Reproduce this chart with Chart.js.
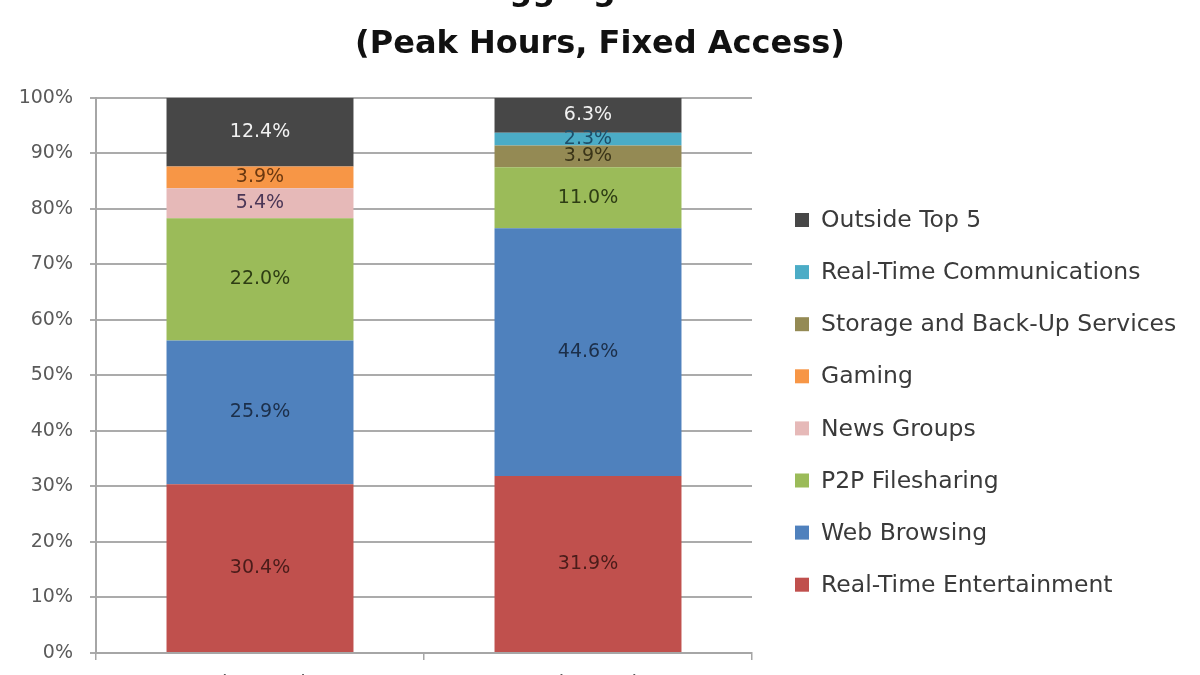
<!DOCTYPE html>
<html>
<head>
<meta charset="utf-8">
<script src="https://cdn.jsdelivr.net/npm/chart.js@4.4.0/dist/chart.umd.min.js"></script>
<style>
  html, body { margin: 0; padding: 0; background: #fff; overflow: hidden; width: 1200px; height: 675px; }
  #wrap { position: absolute; left: 0; top: -44px; width: 1200px; height: 764px; }
</style>
</head>
<body>
<div id="wrap"><canvas id="myChart" width="1200" height="764"></canvas></div>
<script>
// data (percent of peak traffic)
var categories = ["Latin America", "North America"]
var realTimeEntertainment = [30.4, 31.9]
var webBrowsing = [25.9, 44.6]
var p2pFilesharing = [22.0, 11.0]
var newsGroups = [5.4, 0]
var gaming = [3.9, 0]
var storageBackup = [0, 3.9]
var realTimeComms = [0, 2.3]
var outsideTop5 = [12.4, 6.3]
var yTicks = [0, 10, 20, 30, 40, 50, 60, 70, 80, 90, 100]

// first line is cut off at the top of the picture
var titleLines = ["Share of Aggregate Bandwidth", "(Peak Hours, Fixed Access)"]

function makeSet(label, values, color, textColor) {
  return {
    label: label,
    data: values,
    backgroundColor: color,
    textColor: textColor,
    borderWidth: 0,
    barPercentage: 0.57,
    categoryPercentage: 1.0
  }
}

// percent labels in the middle of each segment
var segmentLabels = {
  id: 'segmentLabels',
  afterDatasetsDraw: function(chart) {
    var ctx = chart.ctx
    ctx.save()
    ctx.font = '19px "DejaVu Sans"'
    ctx.textAlign = 'center'
    ctx.textBaseline = 'middle'
    chart.data.datasets.forEach(function(ds, i) {
      var meta = chart.getDatasetMeta(i)
      meta.data.forEach(function(bar, j) {
        var v = ds.data[j]
        if (!v) return
        ctx.fillStyle = ds.textColor
        ctx.fillText(v.toFixed(1) + '%', bar.x, (bar.y + bar.base) / 2)
      })
    })
    ctx.restore()
  }
}

// legend on the right, top item = top of the stack
var sideLegend = {
  id: 'sideLegend',
  afterDraw: function(chart, args, opts) {
    var ctx = chart.ctx
    var sets = chart.data.datasets.slice().reverse()
    ctx.save()
    ctx.font = opts.fontSize + 'px "DejaVu Sans"'
    ctx.textBaseline = 'middle'
    ctx.textAlign = 'left'
    sets.forEach(function(ds, i) {
      var y = opts.top + i * opts.step
      ctx.fillStyle = ds.backgroundColor
      ctx.fillRect(opts.left, y - opts.box / 2, opts.box, opts.box)
      ctx.fillStyle = '#3a3a3a'
      ctx.fillText(ds.label, opts.left + opts.box + 12, y + 1)
    })
    ctx.restore()
  }
}

var ctx = document.getElementById('myChart').getContext('2d')
var chart = new Chart(ctx, {
  type: 'bar',
  data: {
    labels: categories,
    datasets: [
      makeSet("Real-Time Entertainment", realTimeEntertainment, '#c0504d', '#4a1c1a'),
      makeSet("Web Browsing", webBrowsing, '#4f81bd', '#1c2f4a'),
      makeSet("P2P Filesharing", p2pFilesharing, '#9bbb59', '#2e3d14'),
      makeSet("News Groups", newsGroups, '#e6b9b8', '#4a3656'),
      makeSet("Gaming", gaming, '#f79646', '#6a3810'),
      makeSet("Storage and Back-Up Services", storageBackup, '#948a54', '#3a3418'),
      makeSet("Real-Time Communications", realTimeComms, '#4bacc6', '#1d4f6a'),
      makeSet("Outside Top 5", outsideTop5, '#474747', '#f2f2f2')
    ]
  },
  options: {
    responsive: false,
    animation: false,
    layout: { padding: 0 },
    plugins: {
      legend: { display: false },
      tooltip: { enabled: false },
      title: {
        display: true,
        text: titleLines,
        color: '#111',
        font: { family: '"DejaVu Sans"', size: 32, weight: 'bold', lineHeight: 1.64 },
        padding: { top: 9.5, bottom: 27.3 }
      },
      sideLegend: { left: 795, top: 264, step: 52.1, box: 14, fontSize: 23.5 }
    },
    scales: {
      x: {
        stacked: true,
        grid: { drawOnChartArea: false, drawTicks: true, tickLength: 7, color: '#a6a6a6', lineWidth: 1.5 },
        border: { color: '#a6a6a6', width: 2 },
        ticks: { color: '#595959', font: { family: '"DejaVu Sans"', size: 20 }, padding: 12 },
        afterFit: function(scale) { scale.height = 67 }
      },
      y: {
        stacked: true,
        min: 0,
        max: 100,
        afterBuildTicks: function(scale) {
          scale.ticks = yTicks.map(function(v) { return { value: v } })
        },
        grid: { color: '#ababab', lineWidth: 2, tickLength: 6 },
        border: { color: '#a6a6a6', width: 2 },
        ticks: {
          color: '#5a5a5a',
          font: { family: '"DejaVu Sans"', size: 19 },
          padding: 17,
          callback: function(v) { return v + '%' }
        },
        afterFit: function(scale) { scale.width = 96 }
      },
      // empty axis that keeps room for the legend on the right
      gap: {
        type: 'linear',
        position: 'right',
        display: true,
        grid: { display: false },
        border: { display: false },
        ticks: { display: false },
        afterFit: function(scale) { scale.width = 448 }
      }
    }
  },
  plugins: [segmentLabels, sideLegend]
})
</script>
</body>
</html>
